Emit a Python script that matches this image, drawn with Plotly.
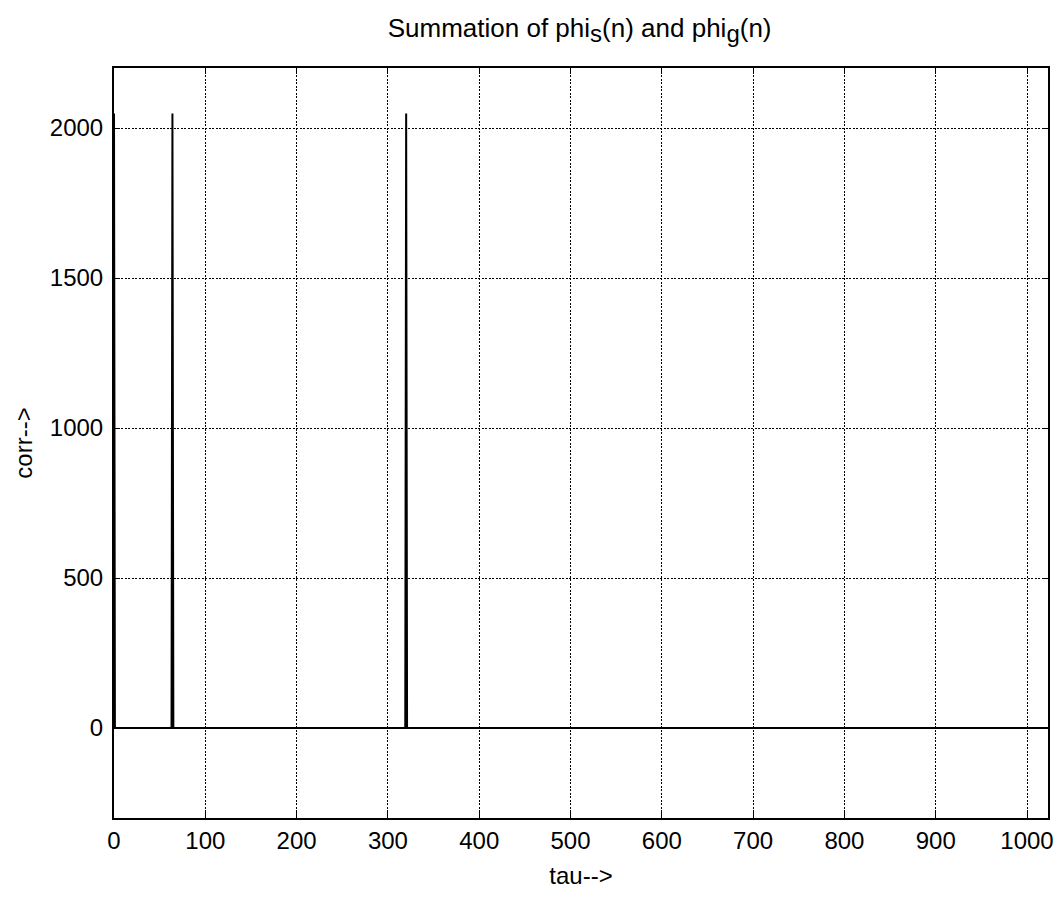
import plotly.graph_objects as go

# Sparse correlation signal: sample index (tau) and value (corr)
tau = [0, 1, 63, 64, 65, 319, 320, 321, 1023]
corr = [2048, 0, 0, 2048, 0, 0, 2048, 0, 0]

x_ticks = [0, 100, 200, 300, 400, 500, 600, 700, 800, 900, 1000]
y_ticks = [0, 500, 1000, 1500, 2000]

font_family = "Liberation Sans, Arial, sans-serif"
FS = 24

fig = go.Figure()
fig.add_trace(go.Scatter(x=tau, y=corr, mode="lines",
                         line=dict(color="black", width=2),
                         showlegend=False))

axis_common = dict(
    showline=True, linecolor="black", linewidth=2, mirror="ticks",
    ticks="inside", ticklen=6, tickwidth=1, tickcolor="black",
    showgrid=True, gridcolor="black", gridwidth=1, griddash="2px,1.5px",
    zeroline=False, automargin=False, ticklabeloverflow="allow",
    tickfont=dict(family=font_family, size=FS, color="black"),
)

sub_style = "font-size:24px"
fig.update_layout(
    width=1046, height=885,
    paper_bgcolor="white", plot_bgcolor="white",
    margin=dict(l=106, r=6, t=60, b=75),
    title=dict(text=("Summation of phi<sub><span style='%s'>s</span></sub>(n) and "
                     "phi<sub><span style='%s'>g</span></sub>(n)") % (sub_style, sub_style),
               x=0.5465, xanchor="center", y=0.988, yanchor="top",
               font=dict(family=font_family, size=26, color="black")),
    xaxis=dict(range=[0, 1023], tickvals=x_ticks,
               title=dict(text="tau-->", standoff=14,
                          font=dict(family=font_family, size=FS, color="black")),
               **axis_common),
    yaxis=dict(range=[-300, 2200], tickvals=y_ticks, ticklabelstandoff=4,
               title=dict(text="corr-->", standoff=10,
                          font=dict(family=font_family, size=FS, color="black")),
               **axis_common),
)

fig.write_html("out.html")
